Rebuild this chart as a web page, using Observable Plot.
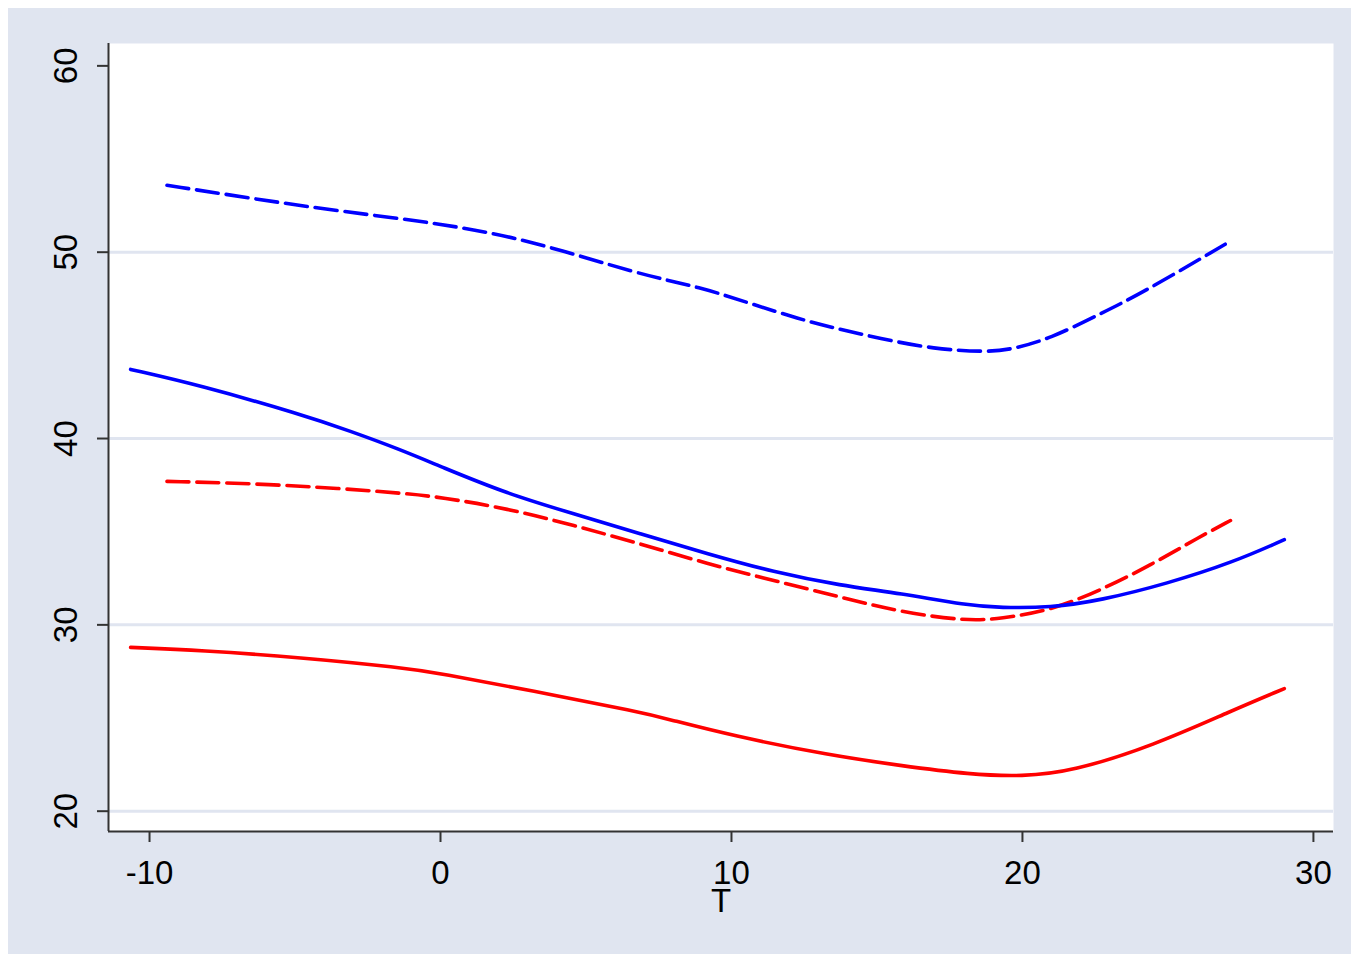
<!DOCTYPE html>
<html><head><meta charset="utf-8">
<script src="https://cdn.jsdelivr.net/npm/d3@7"></script>
<script src="https://cdn.jsdelivr.net/npm/@observablehq/plot@0.6"></script>
<style>
body{margin:0;background:#fff;}
#chart{position:absolute;left:8px;top:8px;}
</style></head><body><div id="chart"></div>
<script>
const xTicks = [-10, 0, 10, 20, 30];
const yTicks = [20, 30, 40, 50, 60];
const gridTicks = [20, 30, 40, 50];
const xLabel = "T";

const blueSolidT = [-10.65, -8.25, -4.8, -3.1, -1.37, 0, 2.29, 4.58, 6.87, 9.16, 11.45, 13.75, 15.81, 18.1, 19.24, 20.96, 22.68, 24.97, 27.26, 29];
const blueSolidV = [43.71, 42.85, 41.3, 40.4, 39.4, 38.5, 37.04, 35.96, 34.89, 33.82, 32.83, 32.11, 31.69, 31.04, 30.92, 30.92, 31.31, 32.21, 33.37, 34.57];

const blueDashT = [-9.4, -6.5, -3.4, 0, 3.1, 6.9, 8.93, 10.65, 12.37, 13.4, 15.12, 16.95, 18.79, 19.59, 20.96, 22.68, 24.05, 27.2];
const blueDashV = [53.59, 52.89, 52.18, 51.55, 50.64, 48.77, 48.13, 47.24, 46.4, 45.98, 45.36, 44.8, 44.64, 44.77, 45.36, 46.7, 47.75, 50.64];

const redDashT = [-9.4, -6.5, -3.4, -1.2, 0, 2.29, 4.58, 6.87, 9.16, 11.45, 13.75, 15.81, 18.1, 19.24, 20.96, 22.68, 24.4, 26.12, 27.15];
const redDashV = [37.7, 37.59, 37.32, 37.05, 36.85, 36.25, 35.34, 34.35, 33.28, 32.38, 31.49, 30.68, 30.2, 30.33, 30.77, 31.85, 33.2, 34.75, 35.6];

const redSolidT = [-10.65, -8.25, -4.8, -1.37, 0, 3.1, 6.9, 7.8, 10, 13.4, 15.8, 18.2, 20, 21.7, 24.5, 27.2, 29];
const redSolidV = [28.79, 28.63, 28.25, 27.71, 27.4, 26.48, 25.3, 24.95, 24.06, 22.99, 22.45, 21.97, 21.86, 22.13, 23.52, 25.4, 26.58];

const xDomain = [-11.41, 30.69];
const yDomain = [18.91, 61.2];
const bg = "#E0E5F0";
const axisColor = "#333333";

const toRows = (t, v) => t.map((d, i) => ({t: d, v: v[i]}));
const series = [
  {rows: toRows(blueDashT, blueDashV), color: "#0000FF", dash: "22,8"},
  {rows: toRows(redDashT, redDashV), color: "#FF0000", dash: "22,8"},
  {rows: toRows(blueSolidT, blueSolidV), color: "#0000FF", dash: null},
  {rows: toRows(redSolidT, redSolidV), color: "#FF0000", dash: null}
];

const chart = Plot.plot({
  width: 1343,
  height: 946,
  marginLeft: 100,
  marginTop: 35,
  marginRight: 18,
  marginBottom: 123,
  x: {domain: xDomain},
  y: {domain: yDomain},
  style: {background: bg, fontFamily: "'Liberation Sans', Arial, sans-serif", color: "#000"},
  marks: [
    Plot.frame({fill: "white", stroke: null}),
    Plot.ruleY(gridTicks, {stroke: bg, strokeWidth: 3}),
    ...series.map(s => Plot.line(s.rows, {
      x: "t", y: "v", stroke: s.color, strokeWidth: 3.6,
      strokeDasharray: s.dash, curve: "basis"
    })),
    Plot.ruleX([xDomain[0]], {stroke: axisColor, strokeWidth: 2}),
    Plot.ruleY([yDomain[0]], {stroke: axisColor, strokeWidth: 2}),
    Plot.axisX({ticks: xTicks, tickSize: 11, tickPadding: 18, fontSize: 33, stroke: axisColor, strokeWidth: 2, label: null, tickFormat: d => String(d)}),
    Plot.axisY({ticks: yTicks, tickSize: 11, stroke: axisColor, strokeWidth: 2, label: null, tickFormat: () => ""}),
    Plot.text(yTicks, {y: d => d, text: d => String(d), frameAnchor: "left", textAnchor: "middle", dx: -42, rotate: -90, fontSize: 33, fill: "#000"}),
    Plot.text([xLabel], {text: d => d, frameAnchor: "bottom", dy: 80, fontSize: 33, fill: "#000"})
  ]
});
document.getElementById("chart").appendChild(chart);
</script>
</body></html>
